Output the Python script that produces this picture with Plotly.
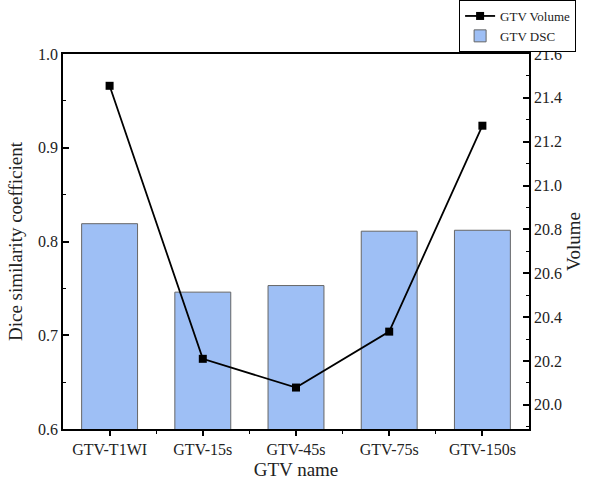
import plotly.graph_objects as go

categories = ["GTV-T1WI", "GTV-15s", "GTV-45s", "GTV-75s", "GTV-150s"]
dsc = [0.819, 0.746, 0.753, 0.811, 0.812]
volume = [21.455, 20.21, 20.079, 20.334, 21.273]

FONT = "Liberation Serif, Times New Roman, serif"
xs = list(range(len(categories)))

fig = go.Figure()
fig.add_trace(go.Bar(
    x=xs, y=dsc, name="GTV DSC", width=0.6,
    marker=dict(color="#9ebff5", line=dict(color="#666666", width=1)),
    yaxis="y",
))
fig.add_trace(go.Scatter(
    x=xs, y=volume, name="GTV Volume", mode="lines+markers",
    line=dict(color="black", width=1.8),
    marker=dict(symbol="square", size=8, color="black"),
    yaxis="y2",
))

fig.update_layout(
    width=590, height=483,
    margin=dict(l=63, r=61, t=54, b=54, autoexpand=False),
    paper_bgcolor="white", plot_bgcolor="white",
    font=dict(family=FONT, size=16, color="#222"),
    showlegend=True,
    legend=dict(
        x=0.85, y=1.144, xanchor="left", yanchor="top",
        bordercolor="black", borderwidth=1, bgcolor="white",
        font=dict(family=FONT, size=13, color="#222"),
        traceorder="reversed", tracegroupgap=0,
        itemwidth=30,
    ),
    xaxis=dict(
        range=[-0.5, 4.5], tickmode="array", tickvals=xs, ticktext=categories,
        showline=True, linecolor="black", linewidth=1.5, mirror=True,
        ticks="outside", ticklen=5, tickwidth=1.5, tickcolor="black",
        minor=dict(tickvals=[0.5, 1.5, 2.5, 3.5], ticks="outside", ticklen=3, tickwidth=1, tickcolor="black"),
        showgrid=False, zeroline=False, automargin=False,
        title=dict(text="GTV name", font=dict(family=FONT, size=19, color="#222"), standoff=6),
        tickfont=dict(family=FONT, size=16, color="#222"),
    ),
    yaxis=dict(
        range=[0.6, 1.0], tickvals=[0.6, 0.7, 0.8, 0.9, 1.0],
        ticktext=["0.6", "0.7", "0.8", "0.9", "1.0"],
        showline=True, linecolor="black", linewidth=1.5,
        ticks="inside", ticklen=6, tickwidth=1.5, tickcolor="black",
        minor=dict(tickvals=[0.65, 0.75, 0.85, 0.95], ticks="inside", ticklen=3, tickwidth=1, tickcolor="black"),
        showgrid=False, zeroline=False, automargin=False,
        title=dict(text="Dice similarity coefficient", font=dict(family=FONT, size=19, color="#222"), standoff=10),
        tickfont=dict(family=FONT, size=16, color="#222"),
    ),
    yaxis2=dict(
        overlaying="y", side="right", range=[19.89, 21.6],
        tickvals=[20.0, 20.2, 20.4, 20.6, 20.8, 21.0, 21.2, 21.4, 21.6],
        ticktext=["20.0", "20.2", "20.4", "20.6", "20.8", "21.0", "21.2", "21.4", "21.6"],
        showline=True, linecolor="black", linewidth=1.5,
        ticks="inside", ticklen=6, tickwidth=1.5, tickcolor="black",
        minor=dict(tickvals=[19.9, 20.1, 20.3, 20.5, 20.7, 20.9, 21.1, 21.3, 21.5], ticks="inside", ticklen=3, tickwidth=1, tickcolor="black"),
        showgrid=False, zeroline=False, automargin=False,
        title=dict(text="Volume", font=dict(family=FONT, size=19, color="#222"), standoff=6),
        tickfont=dict(family=FONT, size=16, color="#222"),
    ),
)

fig.write_html("out.html")
